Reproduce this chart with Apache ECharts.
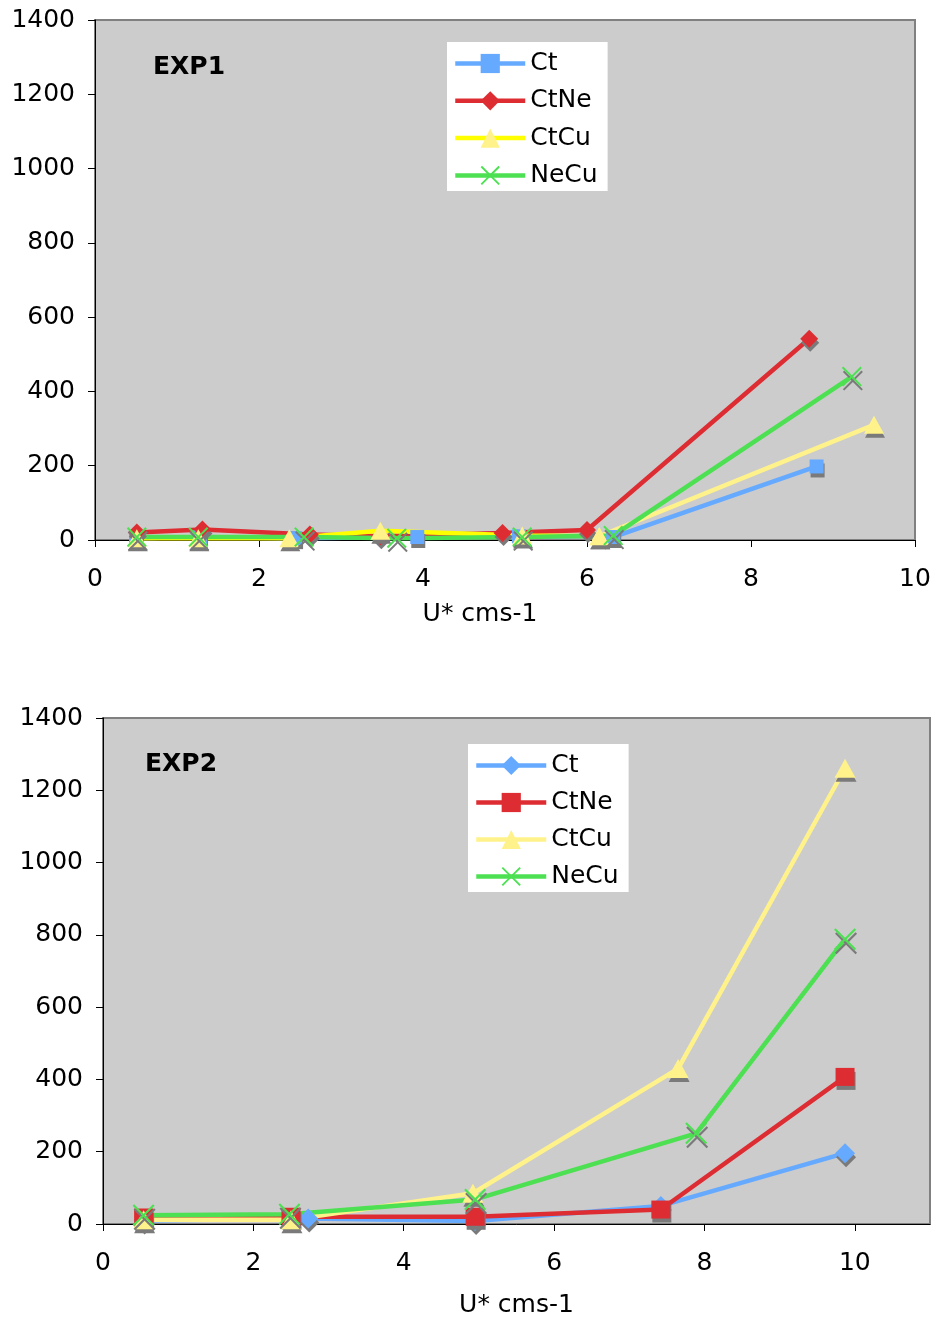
<!DOCTYPE html>
<html>
<head>
<meta charset="utf-8">
<script src="https://cdn.jsdelivr.net/npm/echarts@6/dist/echarts.min.js"></script>
<style>
  html, body { margin: 0; padding: 0; background: #ffffff; }
  #chart { width: 936px; height: 1319px; }
</style>
</head>
<body>
<div id="chart"></div>
<script>
// ---- Experiment 1 (friction velocity U* in cm/s vs. value) ----
const exp1CtX   = [0.5, 1.28, 2.44, 3.93, 5.17, 6.32, 8.8];
const exp1CtY   = [5, 8, 5, 8, 10, 8, 198];
const exp1CtNeX = [0.51, 1.31, 2.62, 3.48, 4.97, 6.0, 8.71];
const exp1CtNeY = [20, 28, 15, 10, 19, 27, 542];
const exp1CtCuX = [0.51, 1.26, 2.37, 3.48, 5.21, 6.15, 9.5];
const exp1CtCuY = [5, 5, 5, 25, 12, 10, 310];
const exp1NeCuX = [0.51, 1.26, 2.55, 3.68, 5.21, 6.32, 9.23];
const exp1NeCuY = [8, 8, 8, 5, 8, 12, 440];

// ---- Experiment 2 ----
const exp2CtX   = [0.54, 2.73, 4.95, 7.42, 9.87];
const exp2CtY   = [10, 15, 8, 50, 196];
const exp2CtNeX = [0.54, 2.5, 4.95, 7.42, 9.87];
const exp2CtNeY = [18, 20, 20, 40, 407];
const exp2CtCuX = [0.54, 2.5, 4.92, 7.65, 9.87];
const exp2CtCuY = [12, 12, 85, 430, 1261];
const exp2NeCuX = [0.54, 2.48, 4.95, 7.89, 9.87];
const exp2NeCuY = [24, 27, 68, 251, 788];

const seriesNames = ['Ct', 'CtNe', 'CtCu', 'NeCu'];
const panelTitles = ['EXP1', 'EXP2'];
const xAxisTitle = 'U* cms-1';

const FONT = 'DejaVu Sans';
const FS = 25;
const BLUE = '#66aaff', RED = '#dd2d33', PALE_YELLOW = '#fff28a',
      YELLOW = '#ffff00', GREEN = '#4de052', SHADOW = '#7a7a7a';
const CROSS = 'path://M0,1.4L1.4,0L10,8.6L18.6,0L20,1.4L11.4,10L20,18.6L18.6,20L10,11.4L1.4,20L0,18.6L8.6,10Z';

const pairs = (xs, ys) => xs.map((x, i) => [x, ys[i]]);
const tag = (name, exp) => name + ' (' + exp + ')';

function lineSeries(name, idx, xs, ys, symbol, size, markerColor, lineColor) {
  return {
    name: name,
    type: 'line',
    xAxisIndex: idx, yAxisIndex: idx,
    data: pairs(xs, ys),
    symbol: symbol,
    symbolSize: size,
    showAllSymbol: true,
    animation: false,
    lineStyle: { color: lineColor || markerColor, width: 4.5 },
    itemStyle: {
      color: markerColor,
      shadowColor: SHADOW, shadowBlur: 0, shadowOffsetX: 1, shadowOffsetY: 4
    },
    emphasis: { disabled: true }
  };
}

const series = [
  lineSeries(tag('Ct', 'EXP1'),   0, exp1CtX,   exp1CtY,   'rect',     14,       BLUE),
  lineSeries(tag('CtNe', 'EXP1'), 0, exp1CtNeX, exp1CtNeY, 'diamond',  [18, 18], RED),
  // CtCu in EXP1: bright yellow line up to U* ~6, pale segment to the last point
  lineSeries(tag('CtCu', 'EXP1'), 0, exp1CtCuX.slice(0, 6), exp1CtCuY.slice(0, 6), 'triangle', [20, 18], PALE_YELLOW, YELLOW),
  lineSeries(tag('CtCu', 'EXP1') + ' high', 0, exp1CtCuX.slice(5), exp1CtCuY.slice(5), 'triangle', [20, 18], PALE_YELLOW),
  lineSeries(tag('NeCu', 'EXP1'), 0, exp1NeCuX, exp1NeCuY, CROSS,      20,       GREEN),

  lineSeries(tag('Ct', 'EXP2'),   1, exp2CtX,   exp2CtY,   'diamond',  [20, 20], BLUE),
  lineSeries(tag('CtNe', 'EXP2'), 1, exp2CtNeX, exp2CtNeY, 'rect',     [19, 18], RED),
  lineSeries(tag('CtCu', 'EXP2'), 1, exp2CtCuX, exp2CtCuY, 'triangle', [21, 19], PALE_YELLOW),
  lineSeries(tag('NeCu', 'EXP2'), 1, exp2NeCuX, exp2NeCuY, CROSS,      22,       GREEN)
];

const labelStyle = { fontFamily: FONT, fontSize: FS, color: '#000' };

function xAxis(idx, max, nameGap, namePad) {
  return {
    type: 'value', gridIndex: idx, min: 0, max: max, interval: 2,
    name: xAxisTitle, nameLocation: 'middle', nameGap: nameGap,
    nameTextStyle: Object.assign({ padding: namePad }, labelStyle),
    axisLine: { show: true, onZero: false, lineStyle: { color: '#000', width: 1 } },
    axisTick: { show: true, inside: false, length: 7, lineStyle: { color: '#000' } },
    axisLabel: Object.assign({ margin: 27, showMaxLabel: max === 10, formatter: v => String(v) }, labelStyle),
    splitLine: { show: false }
  };
}

function yAxis(idx) {
  return {
    type: 'value', gridIndex: idx, min: 0, max: 1400, interval: 200,
    axisLine: { show: true, lineStyle: { color: '#000', width: 1 } },
    axisTick: { show: true, inside: false, length: 7, lineStyle: { color: '#000' } },
    axisLabel: Object.assign({ margin: 20, padding: [5, 0, 0, 0], formatter: v => String(v) }, labelStyle),
    splitLine: { show: false }
  };
}

function legend(exp, left, top, gap, lineColors) {
  return {
    orient: 'vertical', left: left, top: top,
    data: seriesNames.map((n, i) => ({ name: tag(n, exp), lineStyle: { color: lineColors[i], width: 4.5 } })),
    formatter: name => name.replace(/ \(EXP\d\)$/, ''),
    backgroundColor: '#ffffff',
    padding: [9, 10, 3, 6],
    itemWidth: 70, itemHeight: 24, itemGap: gap,
    lineStyle: { width: 4.5 },
    textStyle: { fontFamily: FONT, fontSize: FS, color: '#000' },
    selectedMode: false
  };
}

const chart = echarts.init(document.getElementById('chart'), null, { renderer: 'canvas' });
chart.setOption({
  backgroundColor: '#ffffff',
  animation: false,
  grid: [
    { left: 95, top: 20, width: 820, height: 520, show: true,
      backgroundColor: '#cccccc', borderColor: '#808080', borderWidth: 2 },
    { left: 103, top: 718, width: 827, height: 508, show: true,
      backgroundColor: '#cccccc', borderColor: '#808080', borderWidth: 2 }
  ],
  xAxis: [xAxis(0, 10, 62, [0, 50, 0, 0]), xAxis(1, 11, 69, 0)],
  yAxis: [yAxis(0), yAxis(1)],
  legend: [
    legend('EXP1', 447, 42, 12.3, [BLUE, RED, YELLOW, GREEN]),
    legend('EXP2', 468, 744, 12, [BLUE, RED, PALE_YELLOW, GREEN])
  ],
  graphic: [
    { type: 'text', left: 153, top: 55,
      style: { text: panelTitles[0], fontFamily: FONT, fontSize: FS, fontWeight: 'bold', fill: '#000' } },
    { type: 'text', left: 145, top: 752,
      style: { text: panelTitles[1], fontFamily: FONT, fontSize: FS, fontWeight: 'bold', fill: '#000' } }
  ],
  series: series
});
</script>
</body>
</html>
